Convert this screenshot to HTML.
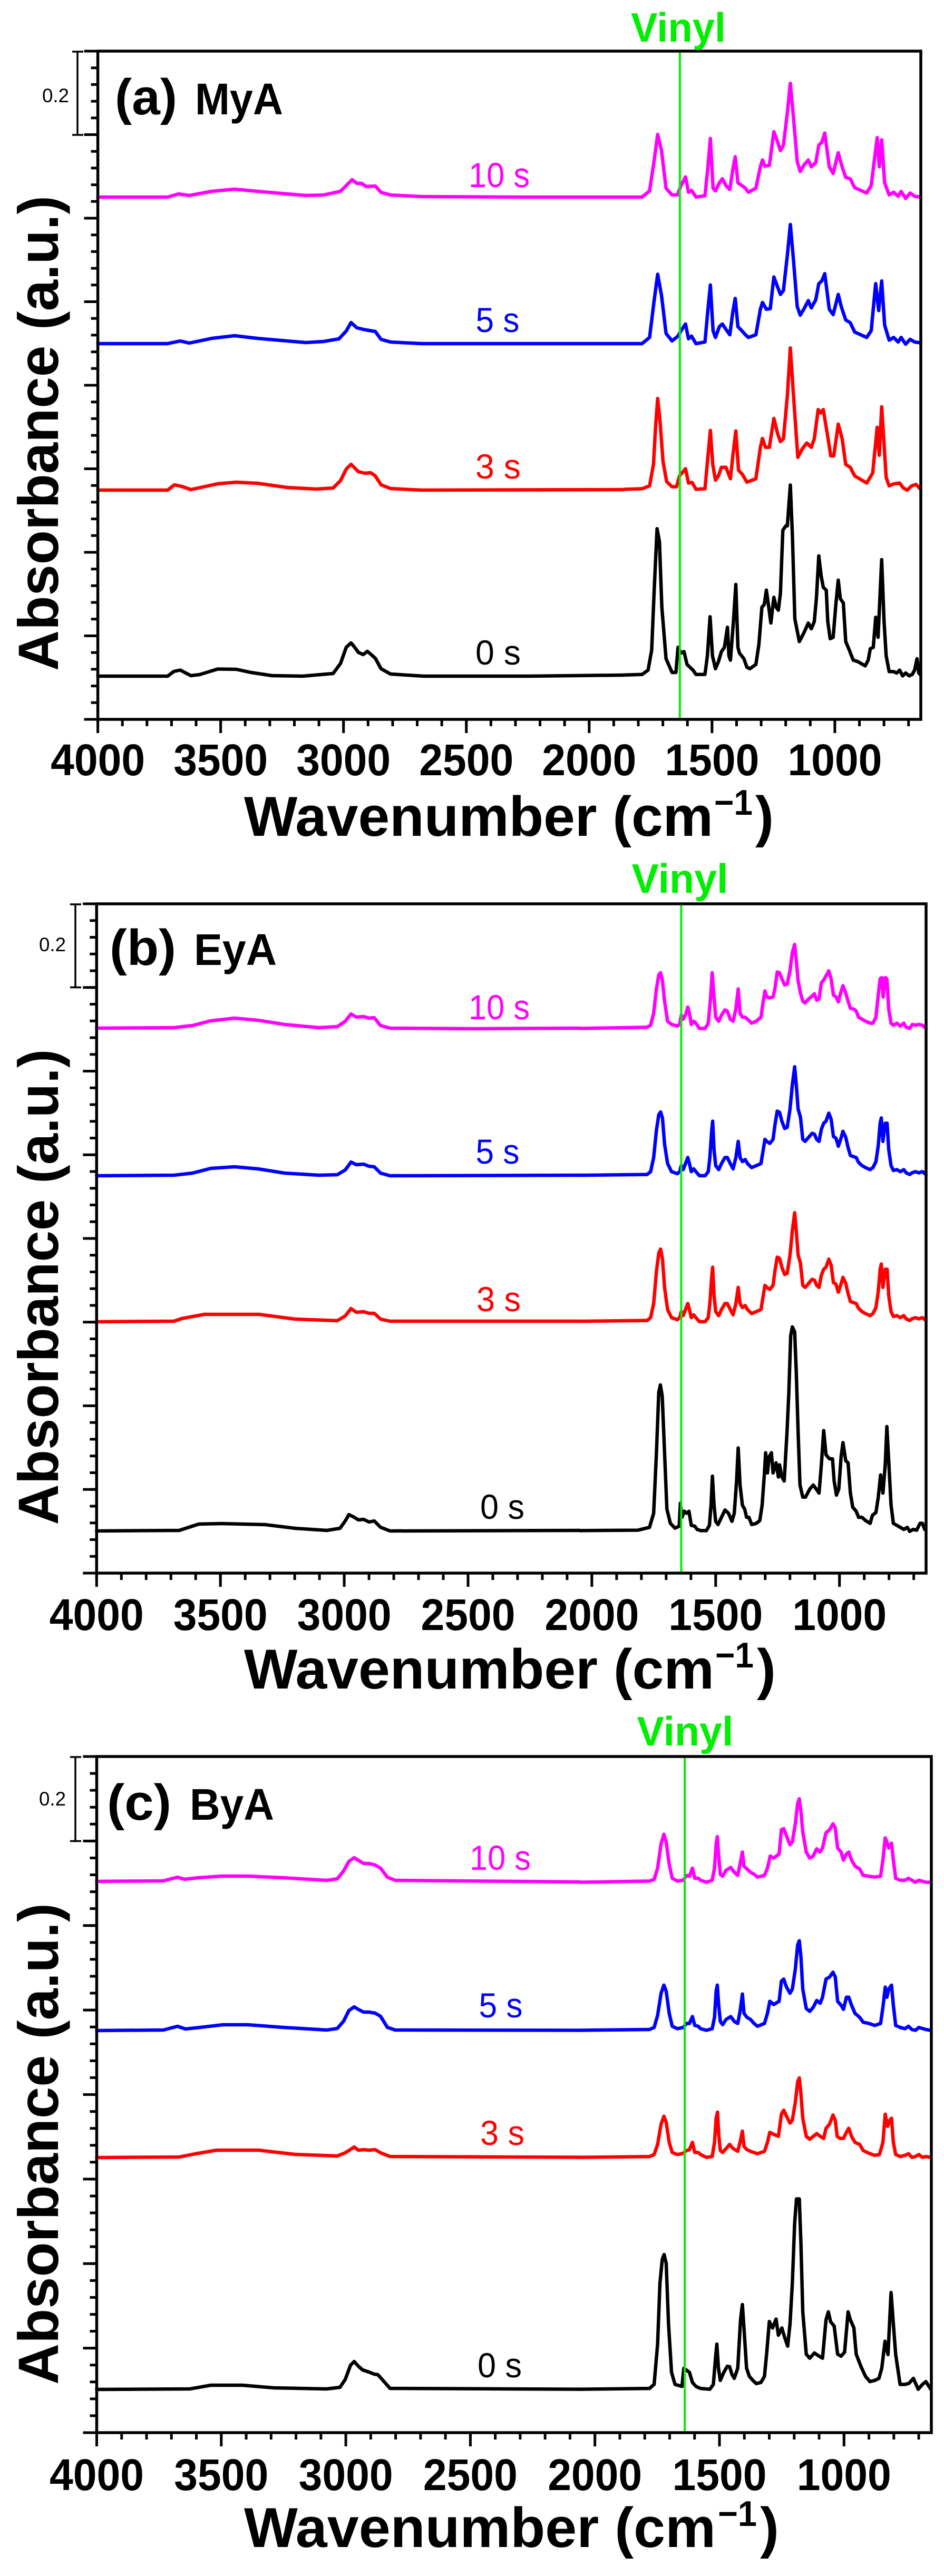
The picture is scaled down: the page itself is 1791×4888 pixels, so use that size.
<!DOCTYPE html>
<html>
<head>
<meta charset="utf-8">
<style>
html,body{margin:0;padding:0;background:#fff;}
svg{display:block;}
text{font-family:"Liberation Sans",Arial,sans-serif;}
</style>
</head>
<body>
<svg xmlns="http://www.w3.org/2000/svg" width="1791" height="4888" viewBox="0 0 1791 4888">
<rect x="0" y="0" width="1791" height="4888" fill="#fff"/>

<!-- ===================== PANEL A ===================== -->
<g fill="none" stroke-linejoin="round" stroke-linecap="round" stroke-width="6.5">
  <polyline stroke="#ff00ff" points="185.6,374 318,374 339,368 359,371 402,363 445,359 488,363 545,368 580,371 614,370 646,363 657,352 668,341 677,348 686,348 695,354 712,353 723,365 741,370 800,373 1000,374 1184,374"/>
  <polyline stroke="#0000ff" points="185.6,652 318,652 342,647 359,651 402,642 445,637 488,642 545,647 580,650 614,648 643,643 657,628 666,612 677,622 689,625 700,627 712,629 723,644 741,649 800,652 1184,652"/>
  <polyline stroke="#ff0000" points="185.6,930 318,930 331,920 345,923 362,929 413,918 448,915 488,917 545,925 600,928 632,926 646,912 657,890 666,881 672,887 680,895 692,898 703,897 712,903 723,920 741,927 800,930 1184,929"/>
  <polyline stroke="#000000" points="185.6,1283 318,1283 330,1274 342,1271.5 362,1282 379,1280 413,1269.5 448,1270 476,1276 516,1282 574,1283 632,1278 646,1259 657,1228 666,1220 672,1227 680,1238 689,1242 697,1236 703,1241 712,1249 723,1269 741,1279 804,1283 1000,1283 1184,1281"/>
</g>
<g fill="none" stroke-linejoin="round" stroke-linecap="round" stroke-width="6.5" transform="translate(900,0) scale(0.5682,0.5102)">
  <polyline vector-effect="non-scaling-stroke" stroke="#ff00ff" points="500,733 560,733 585,710 600,600 612,500 625,560 640,700 660,725 678,725 690,690 705,658 715,715 725,708 740,733 770,728 780,620 788,515 797,700 805,710 818,680 828,665 840,690 853,705 863,630 871,583 880,680 893,690 905,700 915,715 940,700 955,620 962,595 970,618 985,615 1000,490 1010,520 1022,560 1032,540 1045,420 1055,310 1065,430 1078,600 1088,638 1100,615 1115,595 1125,620 1140,605 1150,540 1160,530 1170,495 1185,620 1198,645 1215,568 1225,610 1240,660 1255,665 1270,698 1310,718 1325,690 1345,512 1352,620 1360,520 1370,680 1385,725 1400,715 1415,730 1425,712 1440,738 1455,718 1470,730 1490,733"/>
  <polyline vector-effect="non-scaling-stroke" stroke="#0000ff" points="500,1278 560,1278 585,1255 600,1120 612,1020 625,1100 640,1240 660,1268 680,1250 690,1230 705,1205 715,1260 725,1250 740,1278 770,1272 780,1150 788,1060 797,1230 805,1255 818,1215 828,1205 840,1225 853,1245 863,1160 871,1110 880,1215 893,1230 905,1245 915,1255 940,1245 955,1150 962,1125 975,1150 988,1148 1000,1030 1010,1060 1022,1095 1032,1080 1045,950 1055,835 1065,960 1078,1140 1088,1172 1100,1150 1115,1118 1125,1145 1140,1115 1150,1055 1160,1045 1170,1018 1185,1150 1198,1170 1215,1095 1225,1140 1240,1190 1255,1200 1270,1235 1310,1255 1325,1230 1340,1055 1350,1155 1360,1045 1370,1210 1385,1265 1400,1255 1415,1272 1425,1255 1440,1280 1455,1262 1470,1272 1490,1275"/>
</g>
<g fill="none" stroke-linejoin="round" stroke-linecap="round" stroke-width="6.5" transform="translate(900,800) scale(0.5682,0.5421)">
  <polyline vector-effect="non-scaling-stroke" stroke="#ff0000" points="500,237 560,235 585,225 598,150 605,20 612,-81 620,0 630,140 642,210 660,228 675,228 685,190 705,165 715,215 727,213 740,237 770,235 780,120 788,31 796,150 805,205 815,190 825,160 840,160 855,200 863,120 873,33 882,170 895,185 910,212 940,200 955,90 962,59 972,90 985,90 1000,-11 1012,40 1022,70 1032,60 1045,-90 1055,-258 1065,-100 1080,125 1095,95 1110,75 1125,90 1135,60 1148,-42 1156,-30 1165,-42 1178,40 1190,120 1200,120 1215,9 1228,60 1240,150 1255,160 1270,190 1310,215 1330,180 1345,20 1352,118 1360,-52 1375,195 1385,225 1400,218 1420,215 1432,232 1445,240 1460,225 1475,220 1490,237"/>
  <polyline vector-effect="non-scaling-stroke" stroke="#000000" points="500,887 560,885 580,870 592,800 600,600 610,375 618,420 626,650 640,830 660,878 673,878 680,790 690,810 700,805 710,850 720,860 730,870 740,885 770,885 778,820 787,683 795,820 805,865 815,840 825,805 835,790 845,720 850,820 855,835 865,700 873,570 880,790 885,810 900,830 910,860 920,865 940,850 950,780 960,650 968,640 975,590 983,650 990,705 1000,615 1008,650 1015,660 1022,600 1030,380 1040,365 1045,365 1055,222 1062,400 1070,690 1085,770 1100,740 1115,705 1125,725 1135,700 1142,620 1150,470 1158,540 1165,580 1175,590 1180,700 1188,760 1198,755 1207,640 1215,555 1222,620 1232,635 1240,770 1252,800 1265,835 1280,840 1305,855 1315,835 1322,795 1332,790 1340,685 1348,755 1360,483 1368,700 1375,820 1385,875 1400,875 1410,880 1420,870 1430,890 1440,880 1452,890 1462,885 1470,870 1478,830 1484,880 1490,887"/>
</g>
<line x1="1289.8" y1="97" x2="1289.8" y2="1365" stroke="#00ee00" stroke-width="4"/>
<g stroke="#000" fill="none">
  <rect x="185.6" y="97" width="1561.4" height="1268" stroke-width="5.5"/>
  <line x1="183.1" y1="1371.5" x2="1726.2" y2="1371.5" stroke-width="13" stroke-dasharray="5 41.61"/>
  <line x1="183.1" y1="1378" x2="1586.4" y2="1378" stroke-width="26" stroke-dasharray="5 228.05"/>
  <line x1="179.1" y1="94.5" x2="179.1" y2="1367.5" stroke-width="13" stroke-dasharray="5 26.7"/>
  <line x1="172.6" y1="94.5" x2="172.6" y2="1367.5" stroke-width="26" stroke-dasharray="5 153.5"/>
  <line x1="147" y1="98" x2="147" y2="256" stroke-width="3.5"/>
  <line x1="137" y1="98" x2="158" y2="98" stroke-width="3.5"/>
  <line x1="137" y1="256" x2="158" y2="256" stroke-width="3.5"/>
</g>
<text x="80" y="194" font-size="37" textLength="51" lengthAdjust="spacingAndGlyphs">0.2</text>
<text x="218" y="217" font-size="96" font-weight="bold" textLength="118" lengthAdjust="spacingAndGlyphs">(a)</text>
<text x="370" y="217" font-size="84" font-weight="bold" textLength="167" lengthAdjust="spacingAndGlyphs">MyA</text>
<text x="1287" y="79" font-size="78" font-weight="bold" fill="#00ee00" text-anchor="middle" textLength="180" lengthAdjust="spacingAndGlyphs">Vinyl</text>
<g font-size="66" text-anchor="middle">
  <text x="947" y="355" fill="#ff00ff" textLength="116" lengthAdjust="spacingAndGlyphs">10 s</text>
  <text x="944" y="630" fill="#0000ff" textLength="83" lengthAdjust="spacingAndGlyphs">5 s</text>
  <text x="945" y="908" fill="#ff0000" textLength="86" lengthAdjust="spacingAndGlyphs">3 s</text>
  <text x="945" y="1261" fill="#000" textLength="86" lengthAdjust="spacingAndGlyphs">0 s</text>
</g>
<g font-size="84" font-weight="bold" text-anchor="middle">
  <text x="185.6" y="1471" textLength="179" lengthAdjust="spacingAndGlyphs">4000</text>
  <text x="418.7" y="1471" textLength="179" lengthAdjust="spacingAndGlyphs">3500</text>
  <text x="651.7" y="1471" textLength="179" lengthAdjust="spacingAndGlyphs">3000</text>
  <text x="884.8" y="1471" textLength="179" lengthAdjust="spacingAndGlyphs">2500</text>
  <text x="1117.8" y="1471" textLength="179" lengthAdjust="spacingAndGlyphs">2000</text>
  <text x="1350.9" y="1471" textLength="179" lengthAdjust="spacingAndGlyphs">1500</text>
  <text x="1583.9" y="1471" textLength="179" lengthAdjust="spacingAndGlyphs">1000</text>
</g>
<text x="463" y="1586" font-size="107" font-weight="bold" textLength="890" lengthAdjust="spacingAndGlyphs">Wavenumber (cm</text>
<text x="1355" y="1546" font-size="68" font-weight="bold" textLength="73" lengthAdjust="spacingAndGlyphs">−1</text>
<text x="1433" y="1586" font-size="107" font-weight="bold" textLength="35" lengthAdjust="spacingAndGlyphs">)</text>
<text transform="translate(110,822) rotate(-90)" font-size="108" font-weight="bold" text-anchor="middle" textLength="902" lengthAdjust="spacingAndGlyphs">Absorbance (a.u.)</text>

<!-- ===================== PANEL B ===================== -->
<g fill="none" stroke-linejoin="round" stroke-linecap="round" stroke-width="6.5">
  <polyline stroke="#ff00ff" points="183.3,1951 330,1950 365,1946 400,1937 445,1932 490,1936 540,1944 605,1950 640,1948 655,1938 666,1924 676,1930 690,1929 700,1932 710,1931 722,1946 740,1951 900,1952 1100,1951"/>
  <polyline stroke="#0000ff" points="183.3,2231 330,2230 365,2226 400,2217 445,2214 490,2218 540,2226 605,2230 640,2229 655,2220 666,2205 676,2210 690,2209 700,2213 710,2214 722,2226 740,2231 1100,2230"/>
  <polyline stroke="#ff0000" points="183.3,2508 330,2507 345,2502 388,2494 491,2494 560,2503 640,2506 655,2497 666,2483 676,2490 690,2489 700,2492 710,2492 722,2503 740,2507 1100,2507"/>
  <polyline stroke="#000000" points="183.3,2905 340,2904 377,2892 420,2891 503,2893 560,2900 620,2904 645,2900 655,2886 662,2874 670,2878 680,2884 690,2883 700,2888 710,2886 722,2898 740,2905 1100,2904"/>
</g>
<g fill="none" stroke-linejoin="round" stroke-linecap="round" stroke-width="6.5" transform="translate(1100,1800) scale(0.4407,0.7653)">
  <polyline vector-effect="non-scaling-stroke" stroke="#ff00ff" points="0,198 290,195 305,190 318,160 330,100 340,65 348,60 356,80 365,130 378,180 395,188 420,192 430,188 437,165 445,175 455,165 465,145 472,160 480,188 490,180 500,185 515,198 540,198 553,185 562,130 570,60 578,120 585,170 598,180 610,165 625,152 635,155 648,175 660,180 672,150 682,100 690,160 700,170 712,170 722,175 740,185 760,180 780,170 790,130 797,105 805,120 818,122 832,120 840,100 850,58 860,60 870,75 882,90 893,88 905,55 915,10 925,-10 932,30 940,80 950,110 960,130 970,135 985,125 1000,118 1010,112 1020,128 1030,125 1040,85 1050,78 1060,68 1072,55 1082,75 1092,115 1103,120 1113,132 1123,110 1133,92 1145,110 1155,130 1165,148 1180,150 1190,155 1200,170 1215,175 1230,180 1250,185 1262,185 1275,170 1285,115 1293,75 1300,72 1306,120 1315,72 1322,75 1330,150 1340,185 1350,190 1365,185 1380,192 1395,185 1405,195 1420,198 1432,188 1445,190 1460,188 1475,190 1490,198"/>
  <polyline vector-effect="non-scaling-stroke" stroke="#0000ff" points="0,562 290,560 305,553 318,518 330,450 340,412 348,405 356,420 365,485 378,533 395,553 420,558 430,553 437,538 445,548 455,533 465,518 472,533 480,553 490,546 500,553 515,563 540,563 553,553 560,518 567,458 572,428 578,498 585,538 598,548 610,533 625,518 635,518 648,533 660,546 672,518 682,478 690,518 700,528 712,523 722,533 740,543 760,538 780,533 790,498 797,473 805,478 818,483 832,473 840,438 850,403 860,406 870,428 882,446 893,443 905,398 915,338 925,293 932,338 940,398 950,418 960,473 970,478 985,468 1000,458 1010,460 1020,473 1030,478 1040,448 1050,433 1060,428 1072,408 1082,423 1092,466 1103,470 1113,490 1123,473 1133,453 1145,468 1155,493 1165,513 1180,516 1190,518 1200,530 1215,538 1230,543 1250,548 1262,543 1275,528 1285,488 1293,433 1298,420 1305,478 1315,433 1323,433 1330,498 1340,538 1350,550 1365,548 1380,553 1395,548 1405,556 1420,560 1430,556 1445,553 1460,556 1475,553 1490,560"/>
  <polyline vector-effect="non-scaling-stroke" stroke="#ff0000" points="0,924 290,922 305,915 318,880 330,800 340,755 348,745 356,770 365,840 378,895 395,915 420,920 430,915 437,900 445,910 455,895 465,880 472,895 480,915 490,908 500,915 515,925 540,925 553,915 560,880 567,820 572,790 578,860 585,900 598,910 610,895 625,880 635,880 648,895 660,908 672,880 682,840 690,880 700,890 712,885 722,895 740,905 760,900 780,895 790,860 797,835 805,840 818,845 832,835 840,800 850,765 860,768 870,790 882,808 893,805 905,760 915,700 925,655 932,700 940,760 950,780 960,835 970,840 985,830 1000,820 1010,822 1020,835 1030,840 1040,810 1050,795 1060,790 1072,770 1082,785 1092,828 1103,832 1113,852 1123,835 1133,815 1145,830 1155,855 1165,875 1180,878 1190,880 1200,892 1215,900 1230,905 1250,910 1262,905 1275,890 1285,850 1293,795 1298,782 1305,840 1315,795 1323,795 1330,860 1340,900 1350,912 1365,910 1380,915 1395,910 1405,918 1420,922 1430,918 1445,915 1460,918 1475,915 1490,922"/>
  <polyline vector-effect="non-scaling-stroke" stroke="#000000" points="0,1443 250,1442 300,1435 318,1400 330,1250 340,1100 347,1082 355,1110 365,1250 375,1390 390,1425 410,1437 428,1432 433,1375 440,1410 450,1395 460,1400 470,1395 480,1430 495,1432 505,1440 520,1443 545,1443 558,1430 565,1380 571,1308 578,1380 585,1420 595,1428 610,1410 625,1392 640,1400 655,1420 665,1400 675,1320 682,1238 690,1330 700,1380 710,1390 718,1410 728,1410 740,1428 760,1425 775,1418 785,1380 795,1300 800,1250 808,1300 815,1260 825,1250 832,1300 845,1275 855,1310 860,1280 870,1310 880,1320 892,1200 900,1100 908,960 915,938 925,950 932,1050 940,1200 948,1330 960,1360 972,1360 990,1340 1005,1330 1018,1340 1030,1350 1040,1280 1050,1195 1060,1255 1075,1265 1088,1265 1095,1320 1105,1355 1115,1340 1125,1260 1133,1225 1145,1270 1155,1275 1165,1350 1175,1385 1190,1395 1200,1410 1215,1410 1230,1418 1250,1425 1260,1405 1275,1398 1285,1360 1295,1305 1305,1350 1315,1280 1322,1185 1330,1270 1340,1380 1350,1425 1365,1430 1380,1435 1395,1440 1410,1435 1420,1445 1435,1440 1450,1442 1465,1425 1475,1425 1485,1440"/>
</g>
<line x1="1292.5" y1="1715" x2="1292.5" y2="2985" stroke="#00ee00" stroke-width="4"/>
<g stroke="#000" fill="none">
  <rect x="183.3" y="1715" width="1573.7" height="1270" stroke-width="5.5"/>
  <line x1="180.8" y1="2991.5" x2="1736.1" y2="2991.5" stroke-width="13" stroke-dasharray="5 41.98"/>
  <line x1="180.8" y1="2998" x2="1595.2" y2="2998" stroke-width="26" stroke-dasharray="5 229.9"/>
  <line x1="176.8" y1="1712.5" x2="176.8" y2="2987.5" stroke-width="13" stroke-dasharray="5 26.75"/>
  <line x1="170.3" y1="1712.5" x2="170.3" y2="2987.5" stroke-width="26" stroke-dasharray="5 153.75"/>
  <line x1="143" y1="1716" x2="143" y2="1873.5" stroke-width="3.5"/>
  <line x1="133" y1="1716" x2="154" y2="1716" stroke-width="3.5"/>
  <line x1="133" y1="1873.5" x2="154" y2="1873.5" stroke-width="3.5"/>
</g>
<text x="74" y="1805" font-size="37" textLength="51" lengthAdjust="spacingAndGlyphs">0.2</text>
<text x="208" y="1831" font-size="96" font-weight="bold" textLength="126" lengthAdjust="spacingAndGlyphs">(b)</text>
<text x="368" y="1831" font-size="84" font-weight="bold" textLength="157" lengthAdjust="spacingAndGlyphs">EyA</text>
<text x="1290" y="1694" font-size="78" font-weight="bold" fill="#00ee00" text-anchor="middle" textLength="183" lengthAdjust="spacingAndGlyphs">Vinyl</text>
<g font-size="66" text-anchor="middle">
  <text x="947" y="1934" fill="#ff00ff" textLength="116" lengthAdjust="spacingAndGlyphs">10 s</text>
  <text x="944" y="2208" fill="#0000ff" textLength="83" lengthAdjust="spacingAndGlyphs">5 s</text>
  <text x="946" y="2488" fill="#ff0000" textLength="84" lengthAdjust="spacingAndGlyphs">3 s</text>
  <text x="953" y="2882" fill="#000" textLength="84" lengthAdjust="spacingAndGlyphs">0 s</text>
</g>
<g font-size="84" font-weight="bold" text-anchor="middle">
  <text x="183.3" y="3093" textLength="179" lengthAdjust="spacingAndGlyphs">4000</text>
  <text x="418.2" y="3093" textLength="179" lengthAdjust="spacingAndGlyphs">3500</text>
  <text x="653.1" y="3093" textLength="179" lengthAdjust="spacingAndGlyphs">3000</text>
  <text x="888" y="3093" textLength="179" lengthAdjust="spacingAndGlyphs">2500</text>
  <text x="1122.9" y="3093" textLength="179" lengthAdjust="spacingAndGlyphs">2000</text>
  <text x="1357.8" y="3093" textLength="179" lengthAdjust="spacingAndGlyphs">1500</text>
  <text x="1592.7" y="3093" textLength="179" lengthAdjust="spacingAndGlyphs">1000</text>
</g>
<text x="463" y="3204" font-size="107" font-weight="bold" textLength="892" lengthAdjust="spacingAndGlyphs">Wavenumber (cm</text>
<text x="1357" y="3164" font-size="68" font-weight="bold" textLength="73" lengthAdjust="spacingAndGlyphs">−1</text>
<text x="1436" y="3204" font-size="107" font-weight="bold" textLength="36" lengthAdjust="spacingAndGlyphs">)</text>
<text transform="translate(110,2442) rotate(-90)" font-size="108" font-weight="bold" text-anchor="middle" textLength="903" lengthAdjust="spacingAndGlyphs">Absorbance (a.u.)</text>

<!-- ===================== PANEL C ===================== -->
<g fill="none" stroke-linejoin="round" stroke-linecap="round" stroke-width="6.5">
  <polyline stroke="#ff00ff" points="183.5,3570 310,3569 325,3565 337,3562 350,3566 377,3563 420,3560 470,3560 537,3563 620,3568 640,3565 652,3550 662,3532 672,3525 680,3530 690,3536 700,3536 712,3539 722,3545 735,3562 750,3568 1100,3571"/>
  <polyline stroke="#0000ff" points="183.5,3853 310,3852 325,3848 337,3845 352,3850 380,3847 423,3842 470,3842 537,3847 620,3852 640,3849 652,3835 662,3815 672,3808 680,3813 690,3818 700,3818 712,3820 722,3826 735,3847 750,3852 1100,3852.5"/>
  <polyline stroke="#ff0000" points="183.5,4094 340,4093 370,4087 411,4080 491,4080 560,4088 640,4091 655,4085 666,4078 672,4074 680,4080 690,4079 700,4080 712,4079 722,4085 740,4092 1100,4093.5"/>
  <polyline stroke="#000000" points="183.5,4534 360,4533 400,4526 460,4526 520,4531 620,4533 645,4530 655,4515 665,4488 672,4481 680,4490 688,4497 700,4501 710,4505 717,4506 725,4515 740,4532 1100,4533.6"/>
</g>
<g fill="none" stroke-linejoin="round" stroke-linecap="round" stroke-width="6.5" transform="translate(1100,3300) scale(0.4407,0.7653)">
  <polyline vector-effect="non-scaling-stroke" stroke="#ff00ff" points="0,355 300,352 320,348 335,320 350,260 362,236 372,255 385,310 398,345 420,352 445,350 460,338 472,340 485,320 495,345 510,345 520,350 545,355 570,350 580,320 587,260 592,242 598,290 605,335 615,340 630,325 650,318 665,330 680,338 690,310 700,280 707,315 720,322 735,330 750,335 765,342 795,338 808,320 820,290 835,295 858,285 868,225 878,222 890,240 905,262 915,255 928,210 938,160 945,148 952,180 960,230 975,280 990,295 1005,290 1020,272 1035,280 1045,270 1060,232 1075,225 1090,210 1100,220 1110,270 1125,280 1135,300 1148,285 1158,280 1170,300 1185,315 1205,322 1220,338 1245,340 1270,342 1295,340 1305,300 1315,245 1322,255 1330,270 1342,258 1350,300 1360,345 1380,350 1400,350 1415,345 1430,350 1445,355 1460,350 1490,355 1510,355"/>
  <polyline vector-effect="non-scaling-stroke" stroke="#0000ff" points="0,722 300,720 320,715 335,685 350,630 362,610 372,625 385,680 398,712 420,718 445,715 460,705 472,705 485,688 495,710 510,712 520,718 545,722 570,718 580,690 587,625 592,610 598,660 605,700 615,708 630,695 650,688 665,700 680,705 690,675 700,632 707,680 720,690 735,695 750,705 765,712 795,705 808,680 818,650 835,658 858,650 868,600 878,595 890,615 905,630 915,620 928,570 938,510 945,500 952,540 960,620 975,668 990,675 1005,665 1020,648 1035,655 1045,640 1060,595 1075,590 1090,578 1100,590 1110,650 1125,660 1135,670 1148,640 1158,640 1170,660 1185,680 1205,690 1220,702 1245,705 1270,710 1295,705 1305,665 1315,615 1322,640 1330,620 1342,610 1350,660 1360,710 1380,715 1400,718 1415,712 1430,720 1445,722 1460,715 1490,720 1510,722"/>
  <polyline vector-effect="non-scaling-stroke" stroke="#ff0000" points="0,1037 300,1035 320,1030 335,1005 350,955 362,935 372,950 385,1000 398,1025 420,1030 445,1027 460,1020 472,1018 485,1000 495,1025 510,1025 520,1030 545,1037 570,1035 580,1000 587,940 593,925 598,980 605,1020 615,1025 630,1015 645,1005 660,1015 680,1022 690,1000 700,972 707,1010 720,1018 735,1022 750,1025 765,1028 795,1022 808,1000 818,975 835,980 855,985 868,930 878,920 890,935 905,952 915,945 928,900 938,850 945,840 952,880 960,940 975,985 990,992 1005,985 1020,978 1035,985 1050,990 1060,965 1075,955 1090,932 1100,945 1108,985 1120,990 1135,990 1148,975 1158,965 1170,985 1185,1000 1205,1005 1220,1020 1245,1027 1270,1032 1290,1030 1305,1000 1315,930 1325,960 1335,945 1342,940 1350,1000 1360,1030 1380,1035 1400,1032 1415,1028 1430,1037 1445,1035 1460,1030 1475,1037 1490,1035 1510,1037"/>
  <polyline vector-effect="non-scaling-stroke" stroke="#000000" points="0,1612 300,1610 320,1600 335,1500 345,1350 355,1290 363,1278 372,1300 382,1450 395,1570 410,1600 440,1605 448,1560 460,1565 472,1570 485,1595 500,1605 520,1610 560,1612 575,1600 585,1530 590,1500 597,1560 605,1590 620,1570 635,1555 645,1556 655,1575 665,1585 680,1560 692,1440 700,1402 708,1470 718,1560 730,1580 745,1590 760,1598 780,1595 795,1580 805,1520 816,1444 830,1460 845,1438 855,1478 870,1460 880,1480 895,1505 905,1450 915,1350 925,1200 933,1140 945,1140 952,1250 960,1420 975,1525 990,1535 1010,1522 1025,1528 1045,1535 1060,1440 1070,1420 1080,1445 1095,1455 1110,1525 1125,1530 1140,1520 1155,1420 1165,1440 1180,1460 1190,1525 1210,1555 1230,1580 1249,1593 1270,1590 1288,1585 1300,1560 1314,1493 1327,1526 1340,1372 1350,1450 1360,1526 1379,1600 1400,1600 1418,1597 1436,1585 1457,1612 1475,1600 1490,1593 1511,1612"/>
</g>
<line x1="1299" y1="3333" x2="1299" y2="4616" stroke="#00ee00" stroke-width="4"/>
<g stroke="#000" fill="none">
  <rect x="183.5" y="3333" width="1583.5" height="1283" stroke-width="5.5"/>
  <line x1="181" y1="4622.5" x2="1745.6" y2="4622.5" stroke-width="13" stroke-dasharray="5 42.26"/>
  <line x1="181" y1="4629" x2="1603.8" y2="4629" stroke-width="26" stroke-dasharray="5 231.3"/>
  <line x1="177" y1="3330.5" x2="177" y2="4618.5" stroke-width="13" stroke-dasharray="5 27.075"/>
  <line x1="170.5" y1="3330.5" x2="170.5" y2="4618.5" stroke-width="26" stroke-dasharray="5 155.375"/>
  <line x1="143" y1="3334" x2="143" y2="3493.5" stroke-width="3.5"/>
  <line x1="133" y1="3334" x2="154" y2="3334" stroke-width="3.5"/>
  <line x1="133" y1="3493.5" x2="154" y2="3493.5" stroke-width="3.5"/>
</g>
<text x="74" y="3426" font-size="37" textLength="51" lengthAdjust="spacingAndGlyphs">0.2</text>
<text x="203" y="3453" font-size="96" font-weight="bold" textLength="122" lengthAdjust="spacingAndGlyphs">(c)</text>
<text x="360" y="3453" font-size="84" font-weight="bold" textLength="160" lengthAdjust="spacingAndGlyphs">ByA</text>
<text x="1300" y="3312" font-size="78" font-weight="bold" fill="#00ee00" text-anchor="middle" textLength="183" lengthAdjust="spacingAndGlyphs">Vinyl</text>
<g font-size="66" text-anchor="middle">
  <text x="949" y="3548" fill="#ff00ff" textLength="116" lengthAdjust="spacingAndGlyphs">10 s</text>
  <text x="950" y="3828" fill="#0000ff" textLength="83" lengthAdjust="spacingAndGlyphs">5 s</text>
  <text x="953" y="4070" fill="#ff0000" textLength="84" lengthAdjust="spacingAndGlyphs">3 s</text>
  <text x="948" y="4511" fill="#000" textLength="84" lengthAdjust="spacingAndGlyphs">0 s</text>
</g>
<g font-size="84" font-weight="bold" text-anchor="middle">
  <text x="183.5" y="4725" textLength="179" lengthAdjust="spacingAndGlyphs">4000</text>
  <text x="419.8" y="4725" textLength="179" lengthAdjust="spacingAndGlyphs">3500</text>
  <text x="656.1" y="4725" textLength="179" lengthAdjust="spacingAndGlyphs">3000</text>
  <text x="892.4" y="4725" textLength="179" lengthAdjust="spacingAndGlyphs">2500</text>
  <text x="1128.7" y="4725" textLength="179" lengthAdjust="spacingAndGlyphs">2000</text>
  <text x="1365" y="4725" textLength="179" lengthAdjust="spacingAndGlyphs">1500</text>
  <text x="1601.3" y="4725" textLength="179" lengthAdjust="spacingAndGlyphs">1000</text>
</g>
<text x="463" y="4833" font-size="107" font-weight="bold" textLength="895" lengthAdjust="spacingAndGlyphs">Wavenumber (cm</text>
<text x="1362" y="4793" font-size="68" font-weight="bold" textLength="74" lengthAdjust="spacingAndGlyphs">−1</text>
<text x="1442" y="4833" font-size="107" font-weight="bold" textLength="36" lengthAdjust="spacingAndGlyphs">)</text>
<text transform="translate(110,4068) rotate(-90)" font-size="108" font-weight="bold" text-anchor="middle" textLength="914" lengthAdjust="spacingAndGlyphs">Absorbance (a.u.)</text>
</svg>
</body>
</html>
